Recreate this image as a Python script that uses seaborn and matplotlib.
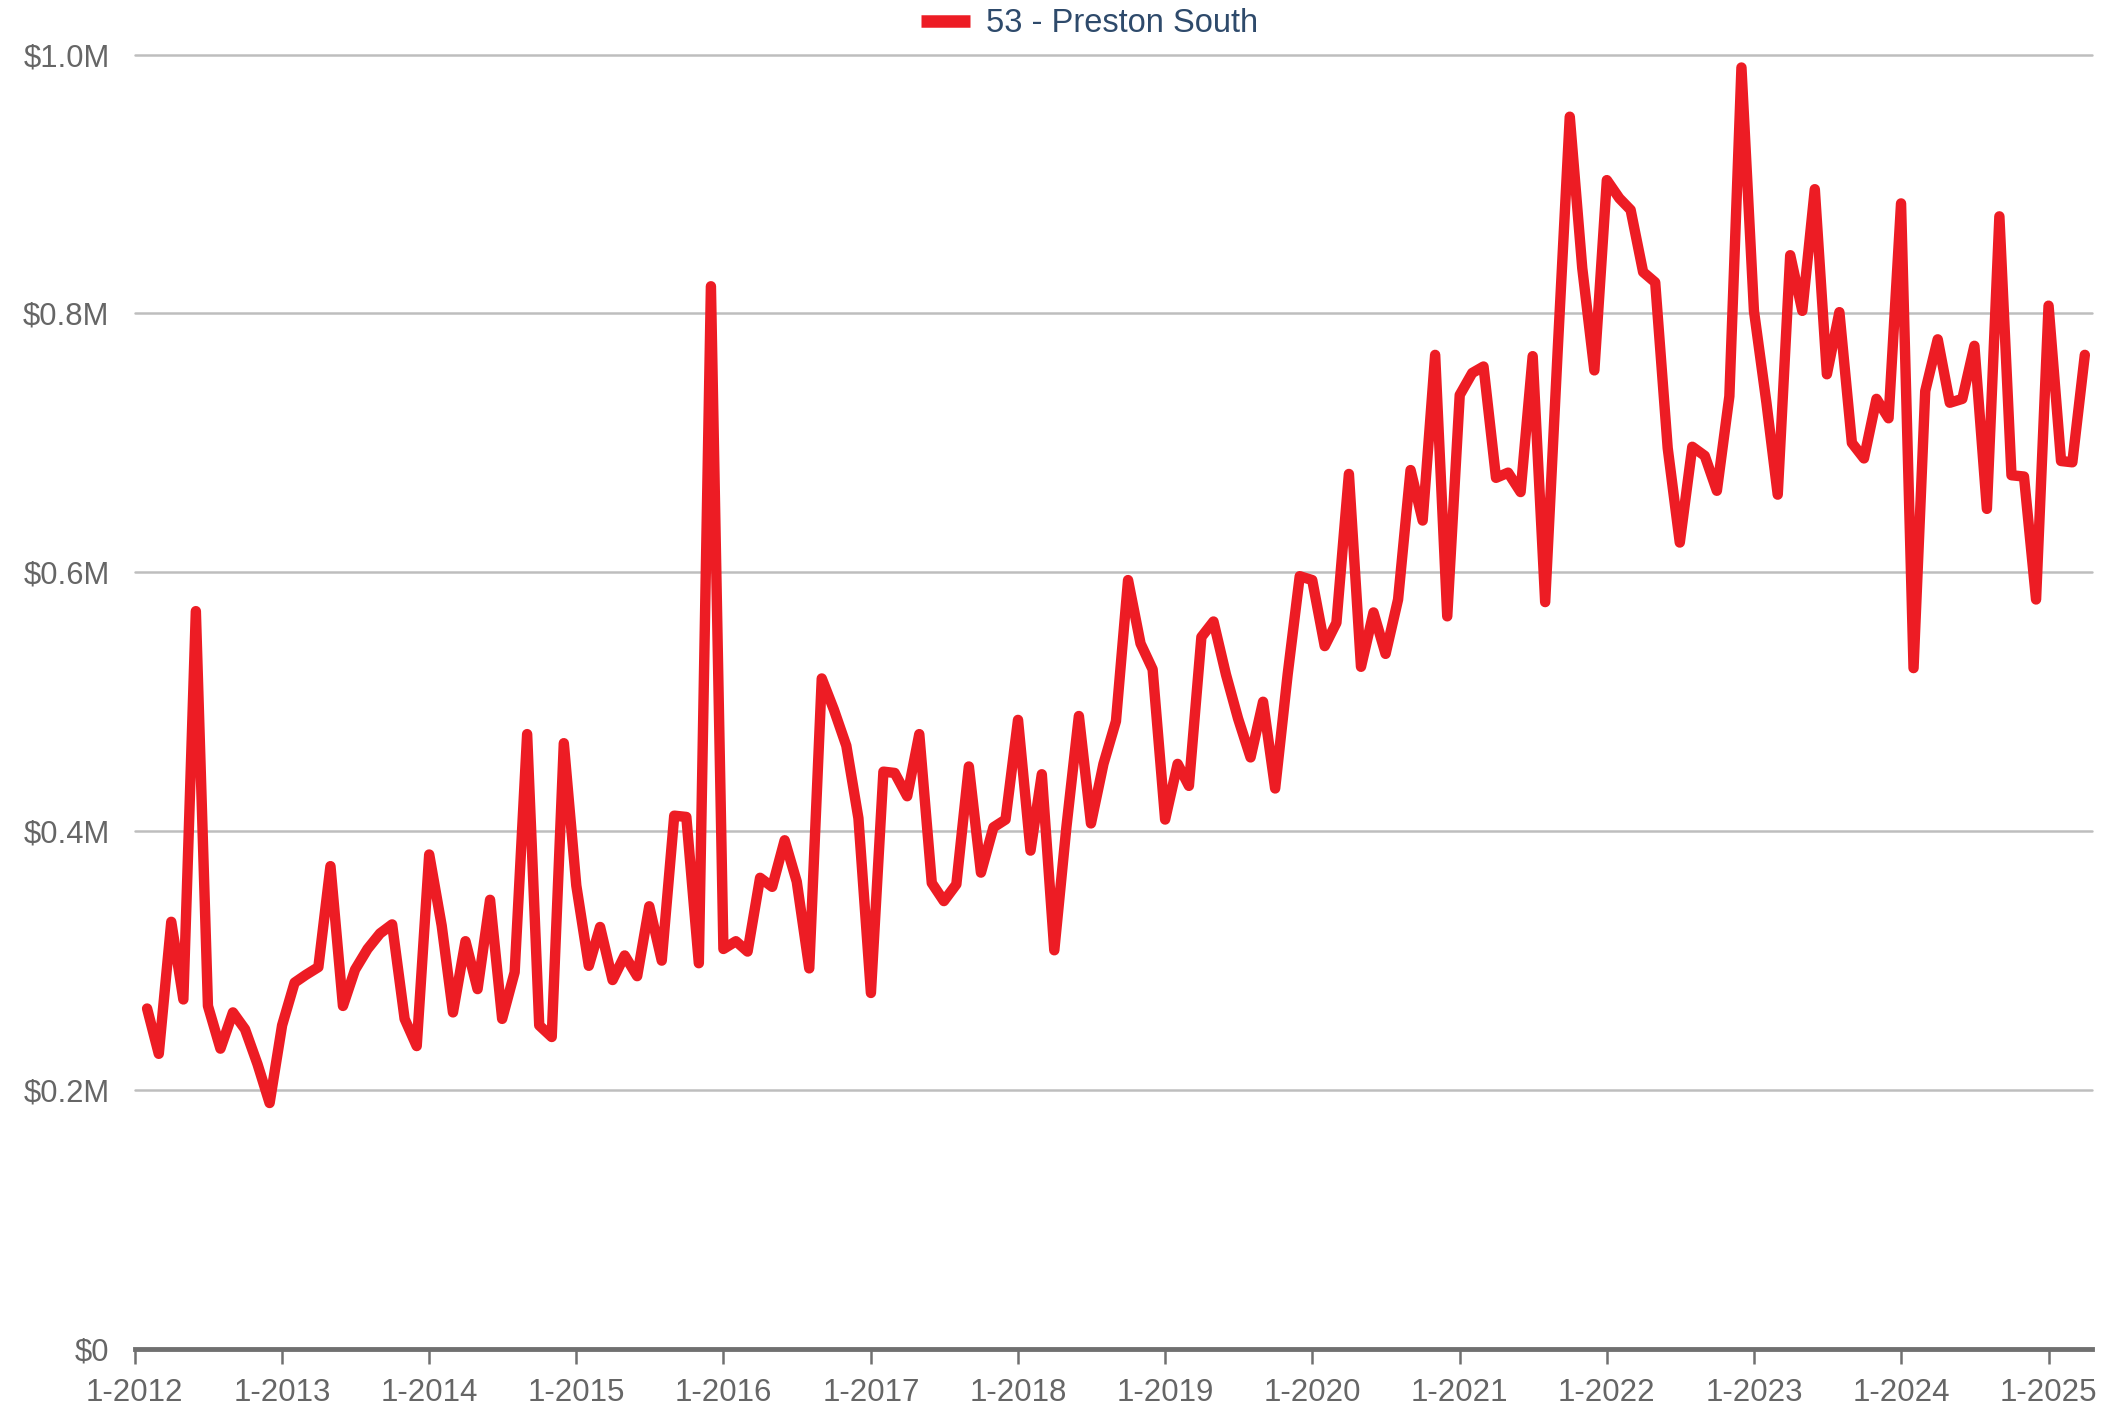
import numpy as np
import pandas as pd
import matplotlib
matplotlib.use("Agg")
import matplotlib.pyplot as plt
import matplotlib.dates as mdates
from matplotlib.ticker import FuncFormatter
import seaborn as sns

# ─── Data (median price, $M, monthly from Feb 2012) ───────────────────
START_MONTH = "2012-02-01"
SERIES_NAME = "53 - Preston South"

values_2012 = [0.263, 0.228, 0.330, 0.270, 0.570, 0.265, 0.232, 0.260, 0.247, 0.220, 0.190]
values_2013 = [0.250, 0.283, 0.289, 0.295, 0.373, 0.265, 0.293, 0.309, 0.321, 0.328, 0.255, 0.234]
values_2014 = [0.382, 0.327, 0.260, 0.315, 0.278, 0.347, 0.255, 0.291, 0.475, 0.250, 0.241, 0.468]
values_2015 = [0.358, 0.296, 0.326, 0.285, 0.304, 0.288, 0.342, 0.300, 0.412, 0.411, 0.298, 0.821]
values_2016 = [0.309, 0.315, 0.307, 0.364, 0.357, 0.393, 0.361, 0.294, 0.518, 0.494, 0.466, 0.410]
values_2017 = [0.275, 0.446, 0.445, 0.427, 0.475, 0.360, 0.346, 0.359, 0.450, 0.368, 0.403, 0.409]
values_2018 = [0.486, 0.385, 0.444, 0.308, 0.403, 0.489, 0.406, 0.452, 0.485, 0.594, 0.545, 0.525]
values_2019 = [0.409, 0.452, 0.435, 0.550, 0.562, 0.521, 0.487, 0.457, 0.500, 0.433, 0.521, 0.597]
values_2020 = [0.594, 0.543, 0.561, 0.676, 0.527, 0.569, 0.537, 0.579, 0.679, 0.640, 0.768, 0.566]
values_2021 = [0.737, 0.754, 0.759, 0.673, 0.677, 0.662, 0.767, 0.577, 0.771, 0.952, 0.835, 0.756]
values_2022 = [0.903, 0.889, 0.880, 0.832, 0.824, 0.696, 0.623, 0.697, 0.690, 0.663, 0.736, 0.990]
values_2023 = [0.802, 0.731, 0.660, 0.845, 0.802, 0.896, 0.753, 0.801, 0.700, 0.688, 0.734, 0.719]
values_2024 = [0.885, 0.526, 0.740, 0.780, 0.731, 0.734, 0.775, 0.649, 0.875, 0.675, 0.674, 0.579]
values_2025 = [0.806, 0.686, 0.685, 0.768]

Y_TICKS = [0, 0.2e6, 0.4e6, 0.6e6, 0.8e6, 1.0e6]

# ─── Style ────────────────────────────────────────────────────────────
LINE_COLOR = "#ED1C24"
TEXT_COLOR = "#666666"
LEGEND_TEXT = "#2E4A6B"
GRID_COLOR = "#BEBEBE"


def build_frame():
    vals = (values_2012 + values_2013 + values_2014 + values_2015 + values_2016
            + values_2017 + values_2018 + values_2019 + values_2020 + values_2021
            + values_2022 + values_2023 + values_2024 + values_2025)
    dates = pd.date_range(START_MONTH, periods=len(vals), freq="MS")
    return pd.DataFrame({"date": dates, "price": np.array(vals) * 1e6, "series": SERIES_NAME})


def money(v, _pos):
    if v == 0:
        return "$0"
    return f"${v / 1e6:.1f}M"


def main():
    df = build_frame()

    sns.set_theme(style="white")
    plt.rcParams["font.family"] = ["Liberation Sans", "DejaVu Sans"]

    fig = plt.figure(figsize=(21.03, 14.10), dpi=100)
    ax = fig.add_axes([0.064, 0.0433, 0.931, 0.918])

    sns.lineplot(data=df, x="date", y="price", hue="series", palette=[LINE_COLOR],
                 linewidth=7.5, ax=ax, legend=False,
                 solid_capstyle="round", solid_joinstyle="round")

    ax.set_xlim(pd.Timestamp("2012-01-01"), pd.Timestamp("2025-04-20"))
    ax.set_ylim(0, 1.0e6)
    ax.set_yticks(Y_TICKS)
    ax.yaxis.set_major_formatter(FuncFormatter(money))
    ax.xaxis.set_major_locator(mdates.YearLocator())
    ax.xaxis.set_major_formatter(FuncFormatter(
        lambda v, _p: f"{mdates.num2date(v).month}-{mdates.num2date(v).year}"))

    ax.set_xlabel("")
    ax.set_ylabel("")

    # gridlines
    ax.grid(False)
    for y in Y_TICKS[1:]:
        ax.axhline(y, color=GRID_COLOR, linewidth=1.8, zorder=0, clip_on=False)

    for side in ["top", "right", "left"]:
        ax.spines[side].set_visible(False)
    ax.spines["bottom"].set_color("#707070")
    ax.spines["bottom"].set_linewidth(3.5)
    ax.spines["bottom"].set_zorder(5)

    ax.tick_params(axis="x", direction="out", length=11, width=1.8, color="#707070",
                   labelsize=22.5, labelcolor=TEXT_COLOR, pad=10, bottom=True)
    ax.tick_params(axis="y", length=0, labelsize=22.3, labelcolor=TEXT_COLOR, pad=18)

    # legend
    handle = plt.Line2D([], [], color=LINE_COLOR, linewidth=9, solid_capstyle="butt")
    fig.legend([handle], [SERIES_NAME], loc="upper center", bbox_to_anchor=(0.518, 1.015),
               frameon=False, fontsize=23.5, labelcolor=LEGEND_TEXT,
               handlelength=1.5, handletextpad=0.5)

    fig.savefig("out.png", dpi=100)
    plt.close(fig)


if __name__ == "__main__":
    main()
